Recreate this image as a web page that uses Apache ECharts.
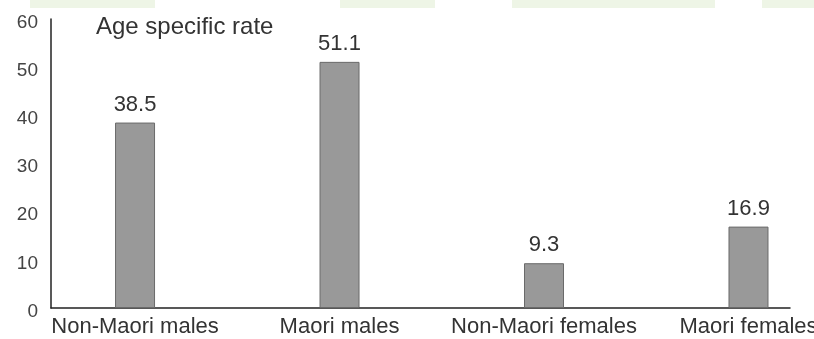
<!DOCTYPE html>
<html>
<head>
<meta charset="utf-8">
<script src="https://cdn.jsdelivr.net/npm/echarts@6/dist/echarts.min.js"></script>
<style>
  html, body { margin: 0; padding: 0; background: #ffffff; }
  #chart { width: 814px; height: 339px; }
</style>
</head>
<body>
<div id="chart"></div>
<script>
// Age specific rate by group
var categories = ['Non-Maori males', 'Maori males', 'Non-Maori females', 'Maori females'];
var rates = [38.5, 51.1, 9.3, 16.9];
var yTicks = [0, 10, 20, 30, 40, 50, 60];

var chart = echarts.init(document.getElementById('chart'), null, { renderer: 'canvas' });

var barData = rates.map(function (v, i) { return [i, v]; });
var FONT = '"Liberation Sans", Arial, Helvetica, sans-serif';

chart.setOption({
  animation: false,
  backgroundColor: '#ffffff',
  title: {
    text: 'Age specific rate',
    left: 91,
    top: 10,
    textStyle: { fontFamily: FONT, fontSize: 24, fontWeight: 'normal', color: '#333333' }
  },
  graphic: [
    { type: 'rect', silent: true, shape: { x: 30, y: 0, width: 125, height: 8 }, style: { fill: '#eef5e6' } },
    { type: 'rect', silent: true, shape: { x: 340, y: 0, width: 95, height: 8 }, style: { fill: '#eef5e6' } },
    { type: 'rect', silent: true, shape: { x: 512, y: 0, width: 203, height: 8 }, style: { fill: '#eef5e6' } },
    { type: 'rect', silent: true, shape: { x: 762, y: 0, width: 52, height: 8 }, style: { fill: '#eef5e6' } }
  ],
  grid: { left: 51, right: 24, top: 19, bottom: 31, containLabel: false, outerBoundsMode: 'none' },
  xAxis: {
    type: 'value',
    min: -0.411,
    max: 3.203,
    splitLine: { show: false },
    axisTick: { show: false },
    axisLine: { show: true, onZero: false, lineStyle: { color: '#222222', width: 1.5 } },
    axisLabel: {
      customValues: [0, 1, 2, 3],
      margin: 8,
      hideOverlap: false,
      fontFamily: FONT,
      fontSize: 22,
      color: '#333333',
      formatter: function (v) { return categories[Math.round(v)]; }
    }
  },
  yAxis: {
    type: 'value',
    min: 0,
    max: 60,
    interval: 10,
    splitLine: { show: false },
    axisTick: { show: false },
    axisLine: { show: true, onZero: false, lineStyle: { color: '#222222', width: 1.5 } },
    axisLabel: {
      customValues: yTicks,
      margin: 13,
      fontFamily: FONT,
      fontSize: 19,
      color: '#444444',
      formatter: function (v) { return '{t|' + v + '}'; },
      rich: {
        t: { fontFamily: FONT, fontSize: 19, color: '#444444', padding: [7, 0, 0, 0] }
      }
    }
  },
  series: [{
    type: 'bar',
    data: barData,
    barWidth: 40,
    itemStyle: { color: '#999999', borderColor: '#6a6a6a', borderWidth: 1 },
    label: {
      show: true,
      position: 'top',
      distance: 7,
      fontFamily: FONT,
      fontSize: 22,
      color: '#333333',
      formatter: function (p) { return p.value[1].toFixed(1); }
    }
  }]
});
</script>
</body>
</html>
